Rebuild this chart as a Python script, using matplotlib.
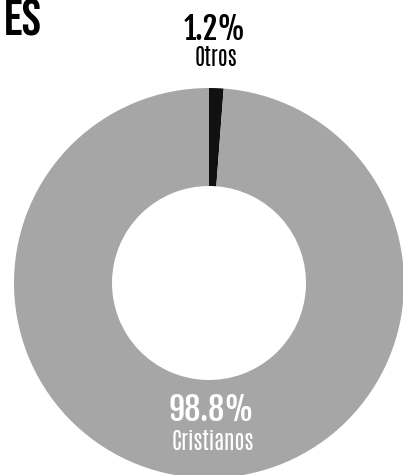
import matplotlib.pyplot as plt

categorias = ['Otros', 'Cristianos']
porcentajes = [1.2, 98.8]
boje = ['#111111', '#a6a6a6']

fig = plt.figure(figsize=(4.03, 4.75), dpi=100)
ax = fig.add_axes([0, 0, 1, 1])

# Prsten (donut) - Otros pocinje od vrha, ide u smeru kazaljke
ax.pie(porcentajes, colors=boje, startangle=90, counterclock=False,
       center=(209, 192), radius=195,
       wedgeprops=dict(width=98, edgecolor='none'))

ax.set_xlim(0, 403)
ax.set_ylim(0, 475)
ax.set_aspect('equal')
ax.axis('off')

broj_font = ['Fjalla One', 'Antonio', 'DejaVu Sans']
tekst_font = ['Antonio', 'DejaVu Sans']

# Naslov (odsecen u originalu)
ax.text(42, 440, 'ES', ha='right', va='baseline', fontsize=37,
        family=['Bebas Neue', 'DejaVu Sans'], color='black')

ax.text(215, 445, f'{porcentajes[0]}%', ha='center', va='center',
        fontsize=22, family=broj_font, color='black')
ax.text(216, 418, categorias[0], ha='center', va='center',
        fontsize=16, family=tekst_font, fontweight='bold', color='black')

ax.text(211, 65, f'{porcentajes[1]}%', ha='center', va='center',
        fontsize=23, family=broj_font, color='white')
ax.text(213, 33, categorias[1], ha='center', va='center',
        fontsize=16, family=tekst_font, fontweight='bold', color='white')

fig.savefig('out.png', dpi=100)
